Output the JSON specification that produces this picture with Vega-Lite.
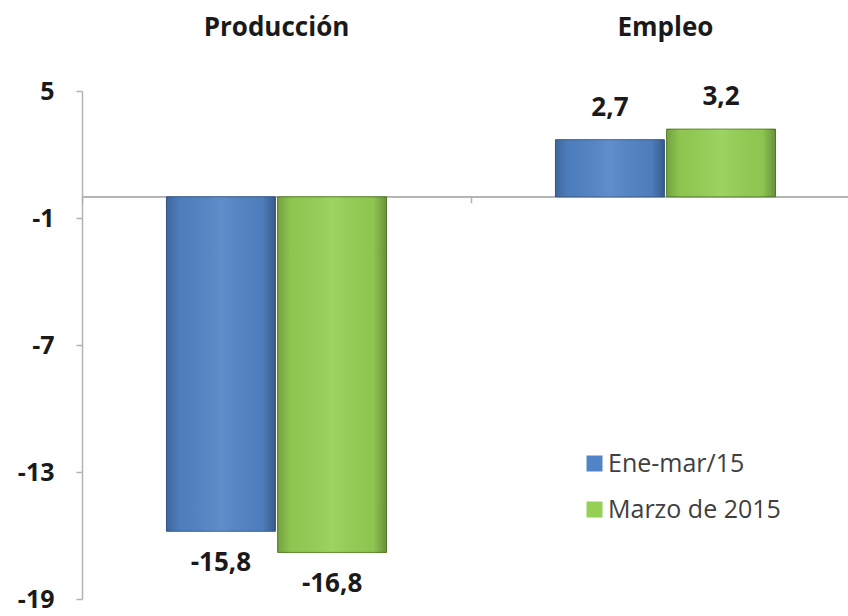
{
  "$schema": "https://vega.github.io/schema/vega-lite/v6.json",
  "width": 766,
  "height": 508,
  "autosize": {"type": "none"},
  "padding": {"left": 82, "top": 91, "right": 0, "bottom": 17},
  "config": {
    "view": {"stroke": null},
    "font": "Open Sans",
    "locale": {"number": {"decimal": ",", "thousands": ".", "grouping": [3], "currency": ["", ""], "minus": "-"}}
  },
  "data": {"values": [
    {"cat": "Producción", "serie": "Ene-mar/15", "valor": -15.8},
    {"cat": "Producción", "serie": "Marzo de 2015", "valor": -16.8},
    {"cat": "Empleo", "serie": "Ene-mar/15", "valor": 2.7},
    {"cat": "Empleo", "serie": "Marzo de 2015", "valor": 3.2}
  ]},
  "resolve": {"axis": {"x": "independent"}},
  "layer": [
    {
      "mark": {"type": "rule", "color": "#b3b3b3", "strokeWidth": 1.5},
      "encoding": {"y": {"datum": 0, "type": "quantitative", "scale": {"domain": [-19, 5], "nice": false, "zero": false},
        "axis": {"values": [5, -1, -7, -13, -19], "grid": false, "domainColor": "#b3b3b3", "domainWidth": 1.5, "tickColor": "#b3b3b3", "tickWidth": 1.5, "tickSize": 6, "labelFontSize": 25, "labelFontWeight": "bold", "labelColor": "#1a1a1a", "labelPadding": 22, "title": null}}}
    },
    {
      "mark": {"type": "bar", "opacity": 0},
      "encoding": {
        "x": {"field": "cat", "type": "nominal", "sort": ["Producción", "Empleo"],
          "scale": {"range": [0, 778], "paddingInner": 0, "paddingOuter": 0},
          "axis": {"orient": "bottom", "offset": -402.2, "domain": false, "labels": false, "ticks": true, "tickBand": "extent", "tickSize": 6, "tickColor": "#b3b3b3", "tickWidth": 1.5, "title": null}},
        "xOffset": {"field": "serie", "type": "nominal", "scale": {"paddingInner": 0.02, "paddingOuter": 0.76}},
        "y": {"field": "valor", "type": "quantitative"}
      }
    },
    {
      "mark": {"type": "bar", "strokeWidth": 1},
      "encoding": {
        "x": {"field": "cat", "type": "nominal", "sort": ["Producción", "Empleo"],
          "axis": {"orient": "top", "domain": false, "ticks": false, "tickSize": 0, "labelAngle": 0, "labelFontSize": 26, "labelFontWeight": "bold", "labelColor": "#1a1a1a", "labelBaseline": "alphabetic", "labelPadding": 56, "title": null}},
        "xOffset": {"field": "serie", "type": "nominal"},
        "y": {"field": "valor", "type": "quantitative"},
        "color": {"field": "serie", "type": "nominal",
          "scale": {"domain": ["Ene-mar/15", "Marzo de 2015"], "range": ["#5184c6", "#95d054"]},
          "legend": {"orient": "none", "legendX": 500, "legendY": 360, "title": null, "symbolType": "square", "symbolSize": 256, "symbolStrokeWidth": 0, "labelFontSize": 25, "labelColor": "#404040", "labelOffset": 1, "labelLimit": 400, "rowPadding": 20, "padding": 0}},
        "stroke": {"field": "serie", "type": "nominal",
          "scale": {"domain": ["Ene-mar/15", "Marzo de 2015"], "range": ["#365f96", "#5d8a2c"]},
          "legend": null}
      }
    },
    {
      "mark": {"type": "bar", "fill": {"gradient": "linear", "x1": 0, "y1": 0, "x2": 1, "y2": 0, "stops": [
        {"offset": 0, "color": "rgba(0,0,0,0.22)"},
        {"offset": 0.12, "color": "rgba(0,0,0,0.05)"},
        {"offset": 0.5, "color": "rgba(255,255,255,0.08)"},
        {"offset": 0.88, "color": "rgba(0,0,0,0.05)"},
        {"offset": 1, "color": "rgba(0,0,0,0.3)"}]}},
      "encoding": {
        "x": {"field": "cat", "type": "nominal", "sort": ["Producción", "Empleo"], "axis": null},
        "xOffset": {"field": "serie", "type": "nominal"},
        "y": {"field": "valor", "type": "quantitative"}
      }
    },
    {
      "transform": [{"filter": "datum.valor > 0"}],
      "mark": {"type": "text", "baseline": "alphabetic", "dy": -24, "fontSize": 26, "fontWeight": "bold", "color": "#1a1a1a"},
      "encoding": {
        "x": {"field": "cat", "type": "nominal", "sort": ["Producción", "Empleo"], "axis": null},
        "xOffset": {"field": "serie", "type": "nominal"},
        "y": {"field": "valor", "type": "quantitative"},
        "text": {"field": "valor", "type": "quantitative", "format": ".1f"}
      }
    },
    {
      "transform": [{"filter": "datum.valor < 0"}],
      "mark": {"type": "text", "baseline": "alphabetic", "dy": 40, "fontSize": 26, "fontWeight": "bold", "color": "#1a1a1a"},
      "encoding": {
        "x": {"field": "cat", "type": "nominal", "sort": ["Producción", "Empleo"], "axis": null},
        "xOffset": {"field": "serie", "type": "nominal"},
        "y": {"field": "valor", "type": "quantitative"},
        "text": {"field": "valor", "type": "quantitative", "format": ".1f"}
      }
    }
  ]
}
